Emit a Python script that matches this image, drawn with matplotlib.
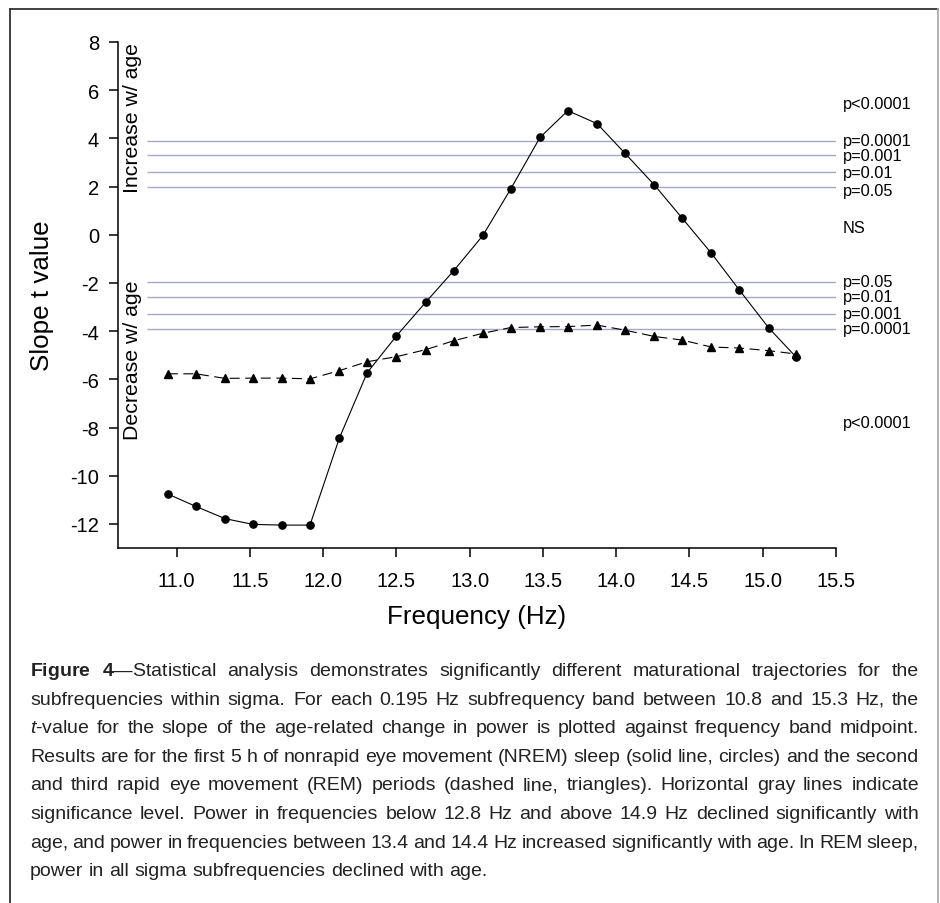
import matplotlib
matplotlib.use('Agg')
import matplotlib.pyplot as plt
from matplotlib import font_manager
from matplotlib.lines import Line2D

# frequency band midpoints (Hz)
freq = [10.94, 11.13, 11.33, 11.52, 11.72, 11.91, 12.11, 12.30, 12.50, 12.70, 12.89, 13.09,
        13.28, 13.48, 13.67, 13.87, 14.06, 14.26, 14.45, 14.65, 14.84, 15.04, 15.23]

# NREM (solid, circles)
nrem_t = [-10.76, -11.27, -11.78, -12.02, -12.05, -12.05, -8.45, -5.73, -4.20, -2.80, -1.50, -0.03,
          1.90, 4.04, 5.15, 4.61, 3.38, 2.07, 0.69, -0.77, -2.29, -3.86, -5.09]

# REM (dashed, triangles)
rem_t = [-5.77, -5.77, -5.96, -5.95, -5.95, -5.98, -5.64, -5.27, -5.06, -4.77, -4.40, -4.09,
         -3.85, -3.82, -3.81, -3.75, -3.96, -4.22, -4.37, -4.66, -4.70, -4.81, -4.95]

# significance thresholds
sig_t = [3.90, 3.30, 2.59, 1.97, -1.97, -2.59, -3.30, -3.90]

sig_labels = ['p<0.0001', 'p=0.0001', 'p=0.001', 'p=0.01', 'p=0.05', 'NS',
              'p=0.05', 'p=0.01', 'p=0.001', 'p=0.0001', 'p<0.0001']
sig_label_y = [5.44, 3.90, 3.30, 2.59, 1.85, 0.32, -1.95, -2.57, -3.27, -3.89, -7.78]

xticks = [11.0, 11.5, 12.0, 12.5, 13.0, 13.5, 14.0, 14.5, 15.0, 15.5]
yticks = [8, 6, 4, 2, 0, -2, -4, -6, -8, -10, -12]

caption = [
    r"$\mathbf{Figure}$ $\mathbf{4}$—Statistical analysis demonstrates significantly different maturational trajectories for the",
    "subfrequencies within sigma. For each 0.195 Hz subfrequency band between 10.8 and 15.3 Hz, the",
    r"$\mathit{t}$-value for the slope of the age-related change in power is plotted against frequency band midpoint.",
    "Results are for the first 5 h of nonrapid eye movement (NREM) sleep (solid line, circles) and the second",
    "and third rapid eye movement (REM) periods (dashed line, triangles). Horizontal gray lines indicate",
    "significance level. Power in frequencies below 12.8 Hz and above 14.9 Hz declined significantly with",
    "age, and power in frequencies between 13.4 and 14.4 Hz increased significantly with age. In REM sleep,",
    "power in all sigma subfrequencies declined with age.",
]

try:
    font_manager.findfont('Liberation Sans Narrow', fallback_to_default=False)
    cap_font = 'Liberation Sans Narrow'
except ValueError:
    cap_font = 'Liberation Sans'
cap_size = 14

plt.rcParams['font.family'] = ['Liberation Sans', 'DejaVu Sans']
plt.rcParams['axes.unicode_minus'] = False
plt.rcParams['mathtext.fontset'] = 'custom'
plt.rcParams['mathtext.rm'] = cap_font
plt.rcParams['mathtext.bf'] = cap_font + ':bold'
plt.rcParams['mathtext.it'] = cap_font + ':italic'

W, H = 940, 904
fig = plt.figure(figsize=(W / 100, H / 100), dpi=100)

# outer frame (bottom edge runs off the page)
fig.add_artist(Line2D([10 / W, 10 / W], [0, 1 - 10 / H], color='#333333', lw=1.3))
fig.add_artist(Line2D([10 / W, 938 / W], [1 - 10 / H, 1 - 10 / H], color='#333333', lw=1.3))
fig.add_artist(Line2D([938 / W, 938 / W], [0, 1 - 10 / H], color='#aaaaaa', lw=1.3))

ax = fig.add_axes([118 / W, 1 - 549 / H, (836 - 118) / W, (549 - 43) / H])

ax.hlines(sig_t, 10.8, 15.5, color='#a6a6c8', lw=1.0, zorder=1)

ax.plot(freq, nrem_t, color='black', lw=0.8, marker='o', ms=5.2, zorder=3)
ax.plot(freq, rem_t, color='black', lw=0.8, ls=(0, (9, 5)), marker='^', ms=5.5, zorder=3)

for lab, yv in zip(sig_labels, sig_label_y):
    ax.text(15.545, yv, lab, fontsize=11.8, ha='left', va='center', clip_on=False)

ax.text(10.70, 8, 'Increase w/ age', rotation=90, fontsize=15.3, ha='center', va='top')
ax.text(10.70, -5.18, 'Decrease w/ age', rotation=90, fontsize=15.3, ha='center', va='center')

ax.set_xlim(10.6, 15.5)
ax.set_ylim(-13, 8)
ax.set_xticks(xticks)
ax.set_xticklabels(['%.1f' % v for v in xticks])
ax.set_yticks(yticks)
ax.spines['top'].set_visible(False)
ax.spines['right'].set_visible(False)
for s in ['left', 'bottom']:
    ax.spines[s].set_linewidth(1.1)
ax.spines['left'].set_bounds(-13, 8)
ax.tick_params(axis='both', direction='out', length=6.5, width=1.1, labelsize=14.5)
ax.tick_params(axis='x', pad=10)
ax.tick_params(axis='y', pad=7)
ax.set_xlabel('Frequency (Hz)', fontsize=18.7, labelpad=10)
ax.set_ylabel('Slope t value', fontsize=18.7, labelpad=12)

# justified caption; size fitted so the last (unjustified) line is ~459 px wide
renderer = fig.canvas.get_renderer()
probe = fig.text(0, 0, caption[-1], fontsize=cap_size, family=cap_font)
cap_size = cap_size * 459 / probe.get_window_extent(renderer).width
probe.remove()

x_left, x_right = 30, 919
base0, step = 676, 28.6
sp = fig.text(0, 0, 'a a', fontsize=cap_size, family=cap_font)
sp2 = fig.text(0, 0, 'aa', fontsize=cap_size, family=cap_font)
space_w = sp.get_window_extent(renderer).width - sp2.get_window_extent(renderer).width
sp.remove()
sp2.remove()
for i, line in enumerate(caption):
    words = line.split(' ')
    texts = []
    widths = []
    for w in words:
        t = fig.text(0, 1 - (base0 + i * step) / H, w, fontsize=cap_size, family=cap_font,
                     ha='left', va='baseline', color='#222222')
        texts.append(t)
        widths.append(t.get_window_extent(renderer).width)
    if i < len(caption) - 1:
        gap = (x_right - x_left - sum(widths)) / (len(words) - 1)
    else:
        gap = space_w
    x = x_left
    for t, w in zip(texts, widths):
        t.set_x(x / W)
        x += w + gap

fig.savefig('out.png', dpi=100)
